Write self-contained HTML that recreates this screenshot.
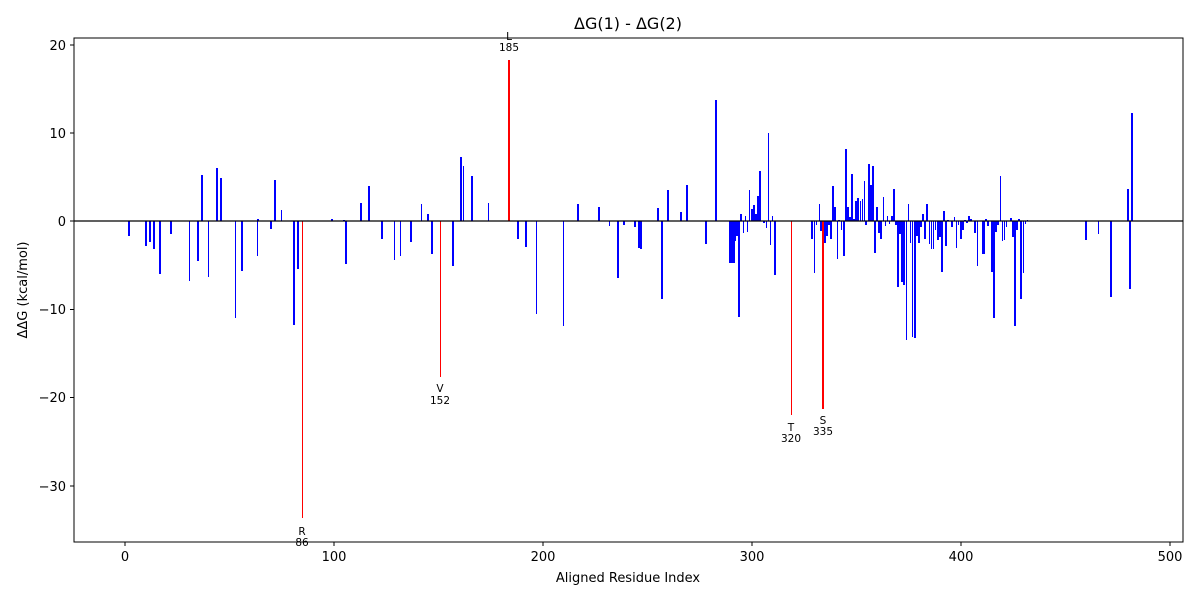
<!DOCTYPE html>
<html><head><meta charset="utf-8"><style>
body{margin:0;background:#fff}
svg{display:block;font-family:"DejaVu Sans","Liberation Sans",sans-serif}
</style></head><body>
<svg id="s" width="1200" height="600" xmlns="http://www.w3.org/2000/svg">
<rect width="1200" height="600" fill="#fff"/>
<g id="bars"></g>
<line x1="74" y1="221" x2="1183" y2="221" stroke="#000" stroke-width="1.2"/>
<rect x="74" y="38" width="1109" height="504" fill="none" stroke="#000" stroke-width="1"/>
<g stroke="#000" stroke-width="1">
<line x1="70" y1="45" x2="74" y2="45"/><line x1="70" y1="133" x2="74" y2="133"/><line x1="70" y1="221" x2="74" y2="221"/><line x1="70" y1="309.5" x2="74" y2="309.5"/><line x1="70" y1="397.5" x2="74" y2="397.5"/><line x1="70" y1="486" x2="74" y2="486"/>
<line x1="125" y1="542" x2="125" y2="546"/><line x1="334" y1="542" x2="334" y2="546"/><line x1="543" y1="542" x2="543" y2="546"/><line x1="752" y1="542" x2="752" y2="546"/><line x1="961" y1="542" x2="961" y2="546"/><line x1="1170" y1="542" x2="1170" y2="546"/>
</g>
<g font-size="13" fill="#000" text-anchor="end">
<text x="66" y="50">20</text><text x="66" y="138">10</text><text x="66" y="226">0</text><text x="66" y="314">−10</text><text x="66" y="402">−20</text><text x="66" y="491">−30</text>
</g>
<g font-size="13" fill="#000" text-anchor="middle">
<text x="125" y="561">0</text><text x="334" y="561">100</text><text x="543" y="561">200</text><text x="752" y="561">300</text><text x="961" y="561">400</text><text x="1170" y="561">500</text>
<text x="628" y="582">Aligned Residue Index</text>
<text x="628" y="29" font-size="16">ΔG(1) - ΔG(2)</text>
<text transform="translate(27,290) rotate(-90)">ΔΔG (kcal/mol)</text>
</g>
<g font-size="10.5" fill="#000" text-anchor="middle">
<text x="509" y="40">L</text><text x="509" y="51">185</text>
<text x="302" y="535">R</text><text x="302" y="546">86</text>
<text x="440" y="392">V</text><text x="440" y="404">152</text>
<text x="791" y="431">T</text><text x="791" y="442">320</text>
<text x="823" y="424">S</text><text x="823" y="435">335</text>
</g>
</svg>
<script>
var d=[[129,236],[146,246],[150,242],[154,249],[160,274],[171,234],[189,281,1],[198,261],[202,175],[208,277,1],[217,168],[221,178],[235,318,1],[242,271],[257,256,1],[258,219],[271,229],[275,180],[281,210,1],[294,325],[298,269],[332,219],[344,220],[346,264],[361,203],[369,186],[382,239],[394,260,1],[400,256,1],[411,242],[421,204,1],[428,214],[432,254],[453,266],[461,157],[463,166,1],[472,176],[488,203,1],[518,239],[526,247],[536,314,1],[563,326,1],[578,204],[599,207],[609,226,1],[618,278],[624,225],[635,227],[639,248],[641,249],[658,208],[662,299],[668,190],[681,212],[687,185],[706,244],[716,100],[730,263],[732,263],[734,263],[735,241],[737,236],[739,317],[741,214],[743,233,1],[745,216,1],[747,232,1],[749,190,1],[752,209],[754,205],[756,214],[758,196],[760,171],[764,223],[766,228,1],[768,133,1],[770,245,1],[772,216,1],[775,275],[812,239],[814,273,1],[816,225,1],[819,204,1],
[821,231],[825,243],[827,236],[829,225],[831,239],[833,186],[835,207],[837,259,1],[839,220],[841,230,1],[844,256],[846,149],[848,207],[850,217],[852,174],[854,219],[856,201],[858,198],[860,201,1],[862,199,1],[864,181,1],[866,225],[869,164],[871,185],[873,166],[875,253],[877,207],[879,233],[881,239],[883,197,1],[885,226,1],[887,216,1],[889,224,1],[892,216],[894,189],[896,225],[898,287],[900,234],[902,282],[904,285],[906,340,1],[908,204,1],[910,243,1],[912,337,1],[915,338],[917,236],[919,243],[921,227],[923,214],[925,239],[927,204],[929,244,1],[931,249,1],[933,249,1],[935,230,1],[938,240],[940,237],[942,272],[944,211],[946,246],[948,220],[952,227],[954,217,1],[956,248,1],[958,225,1],[961,239],[963,230],[965,220],[967,223],[969,216],[971,219],[975,233],[977,266,1],[982,254,1],[984,254],[986,219],[988,226],[992,272],[994,318],[996,232],[998,225],[1000,176,1],[1002,241,1],[1004,240,1],[1006,227,1],[1011,218],[1013,237],[1015,326],[1017,230],[1019,219],[1021,299],[1023,273,1],[1025,224,1],[1027,220,1],[1086,240],[1098,234,1],[1111,297],[1128,189],[1130,289],[1132,113]];
var r=[[302,518,1],[440,377,1],[509,60,2],[791,415,1],[823,409,2]];
var g=document.getElementById('bars'),h='';
function bar(b,w,c){var y=Math.min(b[1],221),H=Math.abs(b[1]-221);var x=w==1?b[0]:(w==2?b[0]-1:b[0]-0.9);h+='<rect x="'+x+'" y="'+y+'" width="'+w+'" height="'+H+'" fill="'+c+'"'+(w<=2?' shape-rendering="crispEdges"':'')+'/>';}
d.forEach(function(b){bar(b,b[2]?1:2,'#0000ff');});
r.forEach(function(b){bar(b,b[2],'#ff0000');});
g.innerHTML=h;
</script>
</body></html>
